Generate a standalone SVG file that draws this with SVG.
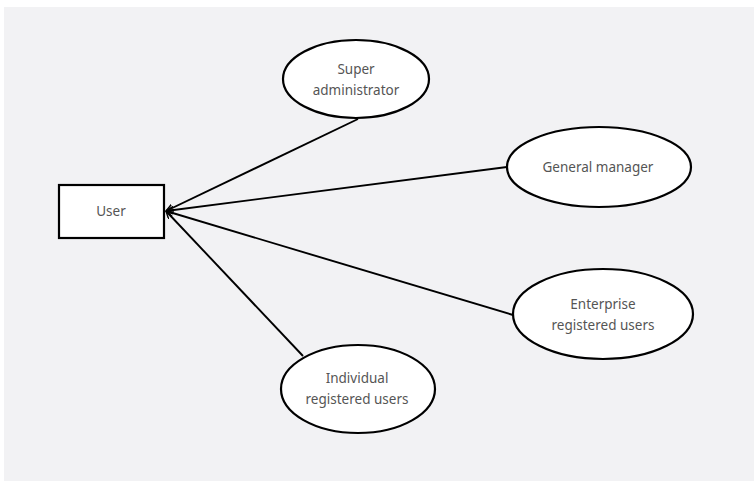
<svg xmlns="http://www.w3.org/2000/svg" width="754" height="481" viewBox="0 0 754 481">
<defs>
<style>
.node{fill:#fff;stroke:#000;stroke-width:2.2}
.lbl{font-family:"Noto Sans","Open Sans",sans-serif;font-size:13.5px;fill:#555;text-anchor:middle}
.conn{stroke:#000;stroke-width:1.9;fill:none;marker-end:url(#arr)}
</style>
<marker id="arr" viewBox="0 0 10 10" refX="9.5" refY="5" markerWidth="8" markerHeight="8" markerUnits="userSpaceOnUse" orient="auto">
<path d="M0,0.5 L9.5,5 L0,9.5" fill="none" stroke="#000" stroke-width="1.8"/>
</marker>
</defs>
<rect x="0" y="0" width="754" height="481" fill="#fff"/>
<rect x="4" y="7" width="750" height="474" fill="#f2f2f4"/>
<g id="connectors">
<line class="conn" x1="358" y1="119" x2="166" y2="211"/>
<line class="conn" x1="507" y1="167" x2="166" y2="211"/>
<line class="conn" x1="513" y1="315" x2="166" y2="211"/>
<line class="conn" x1="303" y1="356" x2="166" y2="211"/>
</g>
<g id="user">
<rect class="node" x="59" y="185" width="105" height="53"/>
<text class="lbl" x="111" y="216">User</text>
</g>
<g id="super-admin">
<ellipse class="node" cx="356" cy="79" rx="73" ry="39"/>
<text class="lbl" x="356" y="74">Super</text>
<text class="lbl" x="356" y="95">administrator</text>
</g>
<g id="general-manager">
<ellipse class="node" cx="599" cy="167" rx="92" ry="40"/>
<text class="lbl" x="598" y="172">General manager</text>
</g>
<g id="enterprise-users">
<ellipse class="node" cx="603" cy="314" rx="90" ry="45"/>
<text class="lbl" x="603" y="309">Enterprise</text>
<text class="lbl" x="603" y="330">registered users</text>
</g>
<g id="individual-users">
<ellipse class="node" cx="358" cy="389" rx="77" ry="44"/>
<text class="lbl" x="357" y="383">Individual</text>
<text class="lbl" x="357" y="404">registered users</text>
</g>
</svg>
